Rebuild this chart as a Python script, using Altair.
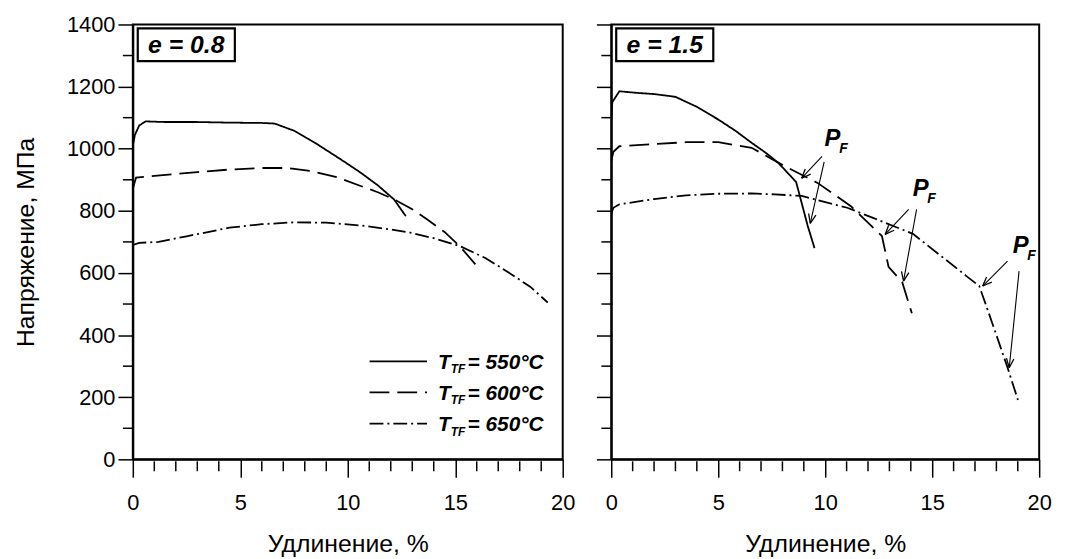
import numpy as np
import pandas as pd
import altair as alt

# ---------------- data ----------------
series_names = ["550", "600", "650"]

# e = 0.8 panel
l550_x = [0.0, 0.1, 0.3, 0.6, 1.5, 3.0, 4.5, 6.0, 6.6, 7.5, 8.5, 9.8, 10.6, 11.4, 12.15, 12.7]
l550_y = [1010, 1045, 1075, 1088, 1086, 1086, 1084, 1083, 1081, 1058, 1018, 960, 923, 882, 837, 783]
l600_x = [0.0, 0.15, 1.4, 3.0, 4.5, 6.0, 7.2, 8.3, 9.5, 10.6, 11.4, 12.15, 13.0, 13.7, 14.5, 15.2, 16.1]
l600_y = [870, 907, 915, 925, 933, 938, 938, 928, 908, 880, 860, 837, 805, 772, 732, 687, 615]
l650_x = [0.0, 0.3, 1.2, 2.5, 4.5, 6.0, 7.5, 9.0, 10.6, 12.0, 12.9, 14.0, 15.2, 16.4, 17.5, 18.5, 19.3]
l650_y = [690, 697, 700, 718, 746, 757, 763, 762, 753, 740, 730, 712, 687, 648, 601, 555, 505]

# e = 1.5 panel
r550_x = [0.0, 0.05, 0.38, 1.16, 2.0, 3.0, 4.0, 5.0, 5.8, 6.56, 7.2, 7.8, 8.64, 9.18, 9.5]
r550_y = [1090, 1150, 1185, 1180, 1176, 1167, 1135, 1094, 1058, 1019, 988, 955, 893, 752, 680]
r600_x = [0.0, 0.1, 0.38, 2.0, 3.5, 5.0, 6.56, 8.1, 9.64, 11.2, 12.65, 12.96, 13.6, 14.05]
r600_y = [960, 990, 1008, 1015, 1021, 1021, 1003, 944, 890, 815, 719, 620, 570, 470]
r650_x = [0.0, 0.1, 0.38, 2.0, 3.5, 5.0, 6.56, 7.64, 8.9, 11.03, 12.5, 14.1, 15.5, 16.6, 17.2, 17.8, 18.5, 19.05]
r650_y = [790, 810, 821, 838, 850, 855, 856, 853, 848, 810, 770, 726, 650, 590, 558, 440, 300, 182]

# P_F annotations (right panel)
pf_x = [10.34, 14.46, 19.13]
pf_y = [1030, 869, 687]
arrow_x0 = [9.85, 9.95, 13.9, 14.27, 18.52, 19.06]
arrow_y0 = [975, 958, 805, 805, 638, 606]
arrow_x1 = [8.9, 9.3, 12.8, 13.66, 17.36, 18.6]
arrow_y1 = [905, 760, 724, 574, 558, 295]

legend_labels = ["= 550°C", "= 600°C", "= 650°C"]

x_major = [0, 5, 10, 15, 20]
x_minor = [1, 2, 3, 4, 6, 7, 8, 9, 11, 12, 13, 14, 16, 17, 18, 19]
y_major = [0, 200, 400, 600, 800, 1000, 1200, 1400]
y_minor = [100, 300, 500, 700, 900, 1100, 1300]

# ---------------- layout ----------------
H = 439
W_L = 434
W_R = 432
XMAX, YMAX = 20, 1400
FONT = "Liberation Sans"

dash_scale = alt.Scale(domain=series_names, range=[[1, 0], [20, 8], [14, 4, 2, 4]])


def curves_df(xs, ys):
    rows = []
    for name, xx, yy in zip(series_names, xs, ys):
        for i, (a, b) in enumerate(zip(xx, yy)):
            rows.append({"s": name, "i": i, "x": a, "y": b})
    return pd.DataFrame(rows)


def arrow_heads(W):
    sx, sy = W / XMAX, H / YMAX
    rows = []
    for x0, y0, x1, y1 in zip(arrow_x0, arrow_y0, arrow_x1, arrow_y1):
        dx, dy = (x1 - x0) * sx, -(y1 - y0) * sy
        L = np.hypot(dx, dy)
        ux, uy = -dx / L, -dy / L
        for a in (np.radians(22), np.radians(-22)):
            vx = ux * np.cos(a) - uy * np.sin(a)
            vy = ux * np.sin(a) + uy * np.cos(a)
            rows.append({"x": x1, "y": y1, "x2": x1 + vx * 10 / sx, "y2": y1 - vy * 10 / sy})
    return pd.DataFrame(rows)


def panel(xs, ys, W, label, left, annotate):
    df = curves_df(xs, ys)
    xax = alt.Axis(values=x_major, tickSize=18, labelPadding=16, title="Удлинение, %",
                   titlePadding=18, grid=False, labelFlush=False, format="d")
    if left:
        yax = alt.Axis(values=y_major, tickSize=15, labelPadding=3, title="Напряжение, МПа",
                       titlePadding=28, grid=False, format="d")
    else:
        yax = alt.Axis(values=y_major, tickSize=15, labels=False, title=None, grid=False)

    xs_ = alt.Scale(domain=[0, XMAX], nice=False, zero=False)
    ys_ = alt.Scale(domain=[0, YMAX], nice=False)

    lines = alt.Chart(df).mark_line(color="black", strokeWidth=1.8, clip=True).encode(
        x=alt.X("x:Q", scale=xs_, axis=xax),
        y=alt.Y("y:Q", scale=ys_, axis=yax),
        strokeDash=alt.StrokeDash("s:N", scale=dash_scale, legend=None),
        detail="s:N",
        order="i:Q",
    )
    one = pd.DataFrame({"a": [0]})
    ymin = alt.Chart(pd.DataFrame({"y": y_minor})).mark_rule(color="black", strokeWidth=1.5).encode(
        y="y:Q", x=alt.value(-10), x2=alt.value(0))
    xmin = alt.Chart(pd.DataFrame({"x": x_minor})).mark_rule(color="black", strokeWidth=1.5).encode(
        x="x:Q", y=alt.value(H + 2), y2=alt.value(H + 12))
    box = alt.Chart(one).mark_rect(fill="white", stroke="black", strokeWidth=2.2).encode(
        x=alt.value(5), x2=alt.value(103), y=alt.value(4), y2=alt.value(37))
    boxtxt = alt.Chart(one).mark_text(text=label, font=FONT, fontSize=25, fontWeight="bold",
                                      fontStyle="italic", align="center", baseline="middle").encode(
        x=alt.value(54), y=alt.value(21))
    layers = [lines, ymin, xmin, box, boxtxt]

    if annotate:
        adf = pd.DataFrame({"x": arrow_x0, "y": arrow_y0, "x2": arrow_x1, "y2": arrow_y1})
        arr = alt.Chart(adf).mark_rule(color="black", strokeWidth=1.1).encode(
            x="x:Q", y="y:Q", x2="x2:Q", y2="y2:Q")
        heads = alt.Chart(arrow_heads(W)).mark_rule(color="black", strokeWidth=1.3).encode(
            x="x:Q", y="y:Q", x2="x2:Q", y2="y2:Q")
        pdf = pd.DataFrame({"x": pf_x, "y": pf_y})
        ptxt = alt.Chart(pdf).mark_text(text="P", font=FONT, fontSize=24, fontWeight="bold",
                                        fontStyle="italic", align="center", baseline="middle").encode(
            x="x:Q", y="y:Q")
        ftxt = alt.Chart(pdf).mark_text(text="F", font=FONT, fontSize=14, fontWeight="bold",
                                        fontStyle="italic", align="center", baseline="middle",
                                        dx=11, dy=10).encode(x="x:Q", y="y:Q")
        layers += [arr, heads, ptxt, ftxt]
    else:
        for k, (name, lab) in enumerate(zip(series_names, legend_labels)):
            yc = 340 + 31.5 * k
            ld = pd.DataFrame({"s": [name]})
            layers.append(alt.Chart(ld).mark_rule(color="black", strokeWidth=1.8).encode(
                x=alt.value(239), x2=alt.value(297), y=alt.value(yc),
                strokeDash=alt.StrokeDash("s:N", scale=dash_scale, legend=None)))
            layers.append(alt.Chart(one).mark_text(text="T", font=FONT, fontSize=21, fontWeight="bold",
                                                   fontStyle="italic", align="left", baseline="alphabetic").encode(
                x=alt.value(308), y=alt.value(yc + 7.5)))
            layers.append(alt.Chart(one).mark_text(text="TF", font=FONT, fontSize=12, fontWeight="bold",
                                                   fontStyle="italic", align="left", baseline="alphabetic").encode(
                x=alt.value(321), y=alt.value(yc + 12)))
            layers.append(alt.Chart(one).mark_text(text=lab, font=FONT, fontSize=21, fontWeight="bold",
                                                   fontStyle="italic", align="left", baseline="alphabetic").encode(
                x=alt.value(338), y=alt.value(yc + 7.5)))

    return alt.layer(*layers).properties(width=W, height=H)


left = panel([l550_x, l600_x, l650_x], [l550_y, l600_y, l650_y], W_L, "e = 0.8", True, False)
right = panel([r550_x, r600_x, r650_x], [r550_y, r600_y, r650_y], W_R, "e = 1.5", False, True)

chart = alt.hconcat(left, right, spacing=49, bounds="flush").properties(
    padding={"left": 5, "right": 5, "top": 2, "bottom": 2}
).configure(
    background="white"
).configure_view(
    stroke="black", strokeWidth=2
).configure_axis(
    domainColor="black", domainWidth=2, tickColor="black", tickWidth=1.5,
    labelFont=FONT, labelFontSize=22, labelColor="black",
    titleFont=FONT, titleFontSize=25, titleFontWeight="normal", titleColor="black",
)

chart.save("out.html", embed_options={"renderer": "svg", "actions": False})
